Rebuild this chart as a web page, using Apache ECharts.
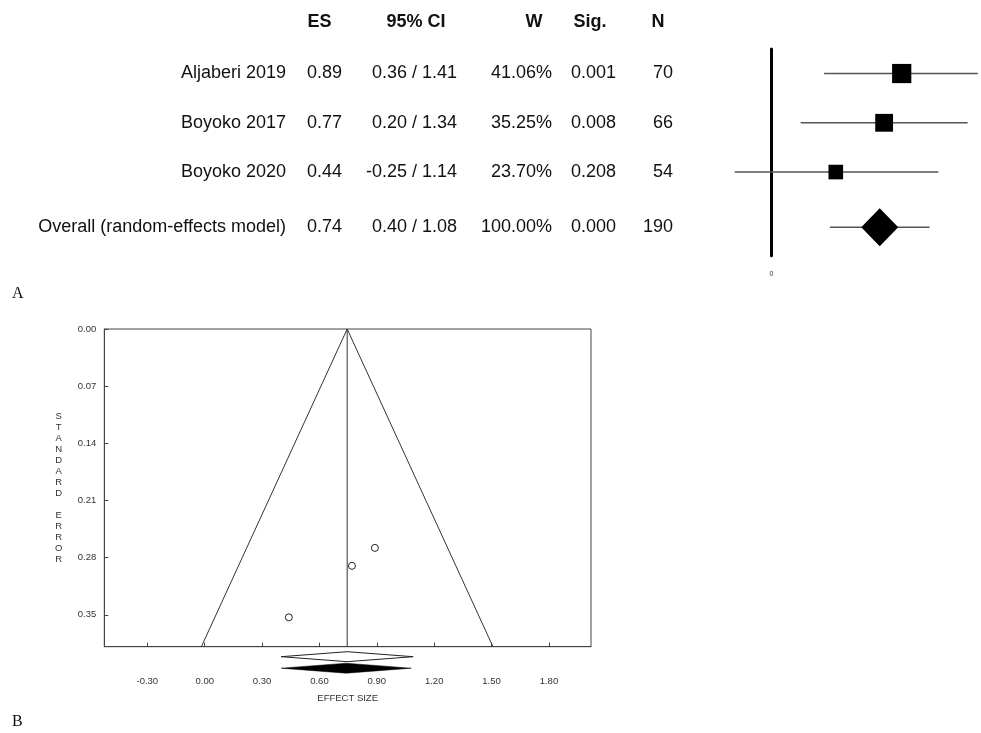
<!DOCTYPE html>
<html><head><meta charset="utf-8">
<script src="https://cdn.jsdelivr.net/npm/echarts@6/dist/echarts.min.js"></script>
<style>html,body{margin:0;padding:0;background:#fff}#c{width:981px;height:733px}</style>
</head><body><div id="c"></div>
<script>
// ---------- Panel A: forest plot data ----------
const studies = ['Aljaberi 2019', 'Boyoko 2017', 'Boyoko 2020', 'Overall (random-effects model)'];
const es = [0.89, 0.77, 0.44, 0.74];
const ciLow = [0.36, 0.20, -0.25, 0.40];
const ciHigh = [1.41, 1.34, 1.14, 1.08];
const weights = [41.06, 35.25, 23.70, 100.00];
const sig = [0.001, 0.008, 0.208, 0.000];
const nTotal = [70, 66, 54, 190];
const tableHeaders = ['ES', '95% CI', 'W', 'Sig.', 'N'];
const forestXTicks = [0];

// ---------- Panel B: funnel plot data ----------
const funnelES = [0.89, 0.77, 0.44];
const funnelSE = [0.268, 0.290, 0.353];
const pooledES = 0.745;
const seMax = 0.389;
const fixedDiamond = [0.40, 0.745, 1.09];   // low, centre, high
const randomDiamond = [0.40, 0.74, 1.08];
const funnelXTicks = [-0.30, 0.00, 0.30, 0.60, 0.90, 1.20, 1.50, 1.80];
const funnelYTicks = [0.00, 0.07, 0.14, 0.21, 0.28, 0.35];

const FONT = '"Liberation Sans", Arial, Helvetica, sans-serif';
const SERIF = '"Liberation Serif", "Times New Roman", serif';

// row position on the forest y axis (overall row sits a little further down)
const rowPos = studies.map((s, i) => i < 3 ? i + 1 : 4.12);
const isOverall = studies.map((s, i) => i === 3);

// table column right edges and header centres (pixels)
const colRight = [286, 342, 457, 552, 616, 673];
const headerCentre = [319.5, 416, 534, 590, 658];

const tableData = studies.map((s, i) => [0, rowPos[i], i]);
const ciData = studies.map((s, i) => [ciLow[i], ciHigh[i], rowPos[i]]);
const squareData = studies.map((s, i) => isOverall[i] ? null : [es[i], rowPos[i], weights[i]]).filter(Boolean);
const diamondData = studies.map((s, i) => isOverall[i] ? [es[i], rowPos[i]] : null).filter(Boolean);

const funnelPts = funnelES.map((v, i) => [v, funnelSE[i]]);
const funnelLines = [[pooledES - 1.96 * seMax, seMax], [pooledES, 0], [pooledES + 1.96 * seMax, seMax]];
const pooledLine = [[pooledES, 0], [pooledES, seMax]];

const chart = echarts.init(document.getElementById('c'), null, {renderer: 'canvas'});

function txt(x, y, text, align, bold) {
  return {type: 'text', x: x, y: y, style: {text: text, fontSize: 18, fontFamily: FONT,
    fontWeight: bold ? 'bold' : 'normal', fill: '#111', align: align, verticalAlign: 'middle'}};
}

const option = {
  animation: false,
  backgroundColor: '#fff',
  graphic: [
    ...tableHeaders.map((h, i) => txt(headerCentre[i], 21.7, h, 'center', true)),
    {type: 'text', x: 12, y: 294, style: {text: 'A', fontSize: 16, fontFamily: SERIF, fill: '#111', verticalAlign: 'middle'}},
    {type: 'text', x: 12, y: 722, style: {text: 'B', fontSize: 16, fontFamily: SERIF, fill: '#111', verticalAlign: 'middle'}}
  ],
  grid: [
    {left: 727.4, top: 48.9, width: 253.4, height: 206.9},
    {left: 104.3, top: 329, width: 486.7, height: 317.7, show: true, borderColor: '#444', borderWidth: 1, backgroundColor: 'transparent'}
  ],
  xAxis: [
    {gridIndex: 0, type: 'value', min: -0.3, max: 1.43,
      axisLine: {show: false}, axisTick: {show: false}, splitLine: {show: false},
      axisLabel: {customValues: forestXTicks, fontSize: 7, color: '#333', fontFamily: FONT, margin: 15, formatter: v => String(Math.round(v))}},
    {gridIndex: 1, type: 'value', min: -0.525, max: 2.02,
      name: 'EFFECT SIZE', nameLocation: 'middle', nameGap: 47,
      nameTextStyle: {fontSize: 9.5, color: '#333', fontFamily: FONT},
      axisLine: {show: true, onZero: false, lineStyle: {color: '#444', width: 1}},
      axisTick: {show: true, inside: true, length: 4, customValues: funnelXTicks, lineStyle: {color: '#444'}},
      splitLine: {show: false},
      axisLabel: {customValues: funnelXTicks, fontSize: 9.5, color: '#333', fontFamily: FONT, margin: 30, formatter: v => v.toFixed(2)}}
  ],
  yAxis: [
    {gridIndex: 0, type: 'value', min: 0.5, max: 4.7, inverse: true,
      axisLine: {show: true, onZero: true, lineStyle: {color: '#000', width: 3}},
      axisTick: {show: false}, axisLabel: {show: false}, splitLine: {show: false}},
    {gridIndex: 1, type: 'value', min: 0, max: seMax, inverse: true,
      name: 'S\nT\nA\nN\nD\nA\nR\nD\n \nE\nR\nR\nO\nR', nameLocation: 'middle', nameRotate: 0, nameGap: 45.6,
      nameTextStyle: {fontSize: 9.5, lineHeight: 11, color: '#333', fontFamily: FONT, align: 'center', verticalAlign: 'middle'},
      axisLine: {show: true, onZero: false, lineStyle: {color: '#444', width: 1}},
      axisTick: {show: true, inside: true, length: 4, customValues: funnelYTicks, lineStyle: {color: '#444'}},
      splitLine: {show: false},
      axisLabel: {customValues: funnelYTicks, fontSize: 9.5, color: '#333', fontFamily: FONT, margin: 8, formatter: v => v.toFixed(2)}}
  ],
  series: [
    // table text
    {type: 'custom', xAxisIndex: 0, yAxisIndex: 0, clip: false, silent: true,
      data: tableData,
      renderItem: function (params, api) {
        const i = api.value(2);
        const y = api.coord([0, api.value(1)])[1];
        const cells = [studies[i], es[i].toFixed(2), ciLow[i].toFixed(2) + ' / ' + ciHigh[i].toFixed(2),
          weights[i].toFixed(2) + '%', sig[i].toFixed(3), String(nTotal[i])];
        return {type: 'group', children: cells.map((c, k) => txt(colRight[k], y, c, 'right', false))};
      }},
    // CI lines
    {type: 'custom', xAxisIndex: 0, yAxisIndex: 0, clip: false, silent: true,
      data: ciData,
      renderItem: function (params, api) {
        const p1 = api.coord([api.value(0), api.value(2)]);
        const p2 = api.coord([api.value(1), api.value(2)]);
        return {type: 'line', shape: {x1: p1[0], y1: p1[1], x2: p2[0], y2: p2[1]},
          style: {stroke: '#555', lineWidth: 1.6}};
      }},
    // study squares
    {type: 'scatter', xAxisIndex: 0, yAxisIndex: 0, symbol: 'rect', silent: true,
      symbolSize: d => 3 * Math.sqrt(d[2]),
      itemStyle: {color: '#000', opacity: 1}, data: squareData},
    // overall diamond
    {type: 'scatter', xAxisIndex: 0, yAxisIndex: 0, symbol: 'diamond', silent: true,
      symbolSize: [37, 38], itemStyle: {color: '#000', opacity: 1}, data: diamondData},

    // funnel lines
    {type: 'line', xAxisIndex: 1, yAxisIndex: 1, data: funnelLines, symbol: 'none', silent: true,
      lineStyle: {color: '#333', width: 1}},
    {type: 'line', xAxisIndex: 1, yAxisIndex: 1, data: pooledLine, symbol: 'none', silent: true,
      lineStyle: {color: '#333', width: 1}},
    // funnel points
    {type: 'scatter', xAxisIndex: 1, yAxisIndex: 1, symbol: 'circle', symbolSize: 7, silent: true,
      itemStyle: {color: '#fff', borderColor: '#222', borderWidth: 1, opacity: 1}, data: funnelPts},
    // summary diamonds under the funnel
    {type: 'custom', xAxisIndex: 1, yAxisIndex: 1, clip: false, silent: true,
      data: [[fixedDiamond[0], fixedDiamond[1], fixedDiamond[2], 0], [randomDiamond[0], randomDiamond[1], randomDiamond[2], 1]],
      renderItem: function (params, api) {
        const filled = api.value(3) === 1;
        const bottom = api.coord([0, seMax])[1];
        const cy = bottom + (filled ? 21.5 : 10);
        const xl = api.coord([api.value(0), seMax])[0];
        const xc = api.coord([api.value(1), seMax])[0];
        const xr = api.coord([api.value(2), seMax])[0];
        return {type: 'polygon', shape: {points: [[xl, cy], [xc, cy - 5], [xr, cy], [xc, cy + 5]]},
          style: filled ? {fill: '#000', stroke: '#000', lineWidth: 0.5} : {fill: '#fff', stroke: '#222', lineWidth: 1}};
      }}
  ]
};
chart.setOption(option);
</script>
</body></html>
